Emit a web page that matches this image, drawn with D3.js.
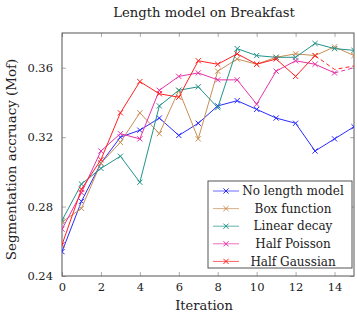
<!DOCTYPE html>
<html>
<head>
<meta charset="utf-8">
<script src="https://cdn.jsdelivr.net/npm/d3@7"></script>
<style>
  body { margin: 0; background: #fff; }
  text { font-family: "DejaVu Serif", serif; fill: #222; }
</style>
</head>
<body>
<svg id="chart" width="357" height="317"></svg>
<script>
const iterations = [0, 1, 2, 3, 4, 5, 6, 7, 8, 9, 10, 11, 12, 13, 14, 15];
const noLength     = [0.254, 0.283, 0.305, 0.320, 0.324, 0.331, 0.321, 0.328, 0.338, 0.341, 0.336, 0.331, 0.328, 0.312, 0.319, 0.326];
const boxFunction  = [0.271, 0.279, 0.305, 0.317, 0.334, 0.322, 0.347, 0.319, 0.358, 0.365, 0.362, 0.366, 0.368, 0.367, 0.372, 0.367];
const linearDecay  = [0.272, 0.293, 0.302, 0.309, 0.294, 0.338, 0.347, 0.349, 0.337, 0.371, 0.367, 0.366, 0.366, 0.374, 0.371, 0.370];
const halfPoisson  = [0.267, 0.288, 0.312, 0.322, 0.319, 0.347, 0.355, 0.357, 0.353, 0.353, 0.339, 0.358, 0.364, 0.362, 0.357, 0.360];
const halfGaussian = [0.258, 0.290, 0.307, 0.334, 0.352, 0.345, 0.343, 0.364, 0.362, 0.368, 0.362, 0.365, 0.355, 0.367, 0.359, 0.361];
const seriesNames = ["No length model", "Box function", "Linear decay", "Half Poisson", "Half Gaussian"];
const xTicks = [0, 2, 4, 6, 8, 10, 12, 14];
const yTicks = [0.24, 0.28, 0.32, 0.36];

// last index drawn solid with markers, the rest is a dashed tail
const series = [
  { name: seriesNames[0], values: noLength,     color: "#2b2bff", solidTo: 15 },
  { name: seriesNames[1], values: boxFunction,  color: "#c98f55", solidTo: 15 },
  { name: seriesNames[2], values: linearDecay,  color: "#22938a", solidTo: 15 },
  { name: seriesNames[3], values: halfPoisson,  color: "#e633a8", solidTo: 14 },
  { name: seriesNames[4], values: halfGaussian, color: "#ff2020", solidTo: 13 }
];

const svg = d3.select("#chart");
const mLeft = 62, mRight = 354, mTop = 33, mBottom = 276;

const x = d3.scaleLinear().domain([0, 15]).range([mLeft, mRight]);
const y = d3.scaleLinear().domain([0.24, 0.38]).range([mBottom, mTop]);

svg.append("defs").append("clipPath").attr("id", "clip")
  .append("rect").attr("x", mLeft).attr("y", mTop)
  .attr("width", mRight - mLeft).attr("height", mBottom - mTop);

// title
svg.append("text")
  .attr("x", (mLeft + mRight) / 2 - 4).attr("y", 17)
  .attr("text-anchor", "middle")
  .style("font-size", "13.2px")
  .text("Length model on Breakfast");

// axes (ticks inward on all four sides)
const tickLen = 4;
const axisColor = "#555";
svg.append("g").attr("transform", `translate(0,${mBottom})`)
  .call(d3.axisBottom(x).tickValues(xTicks).tickSize(-tickLen).tickPadding(7).tickFormat(d3.format("d")));
svg.append("g").attr("transform", `translate(0,${mTop})`)
  .call(d3.axisTop(x).tickValues(xTicks).tickSize(-tickLen).tickFormat(""));
svg.append("g").attr("transform", `translate(${mLeft},0)`)
  .call(d3.axisLeft(y).tickValues(yTicks).tickSize(-tickLen).tickPadding(9).tickFormat(d3.format(".2f")));
svg.append("g").attr("transform", `translate(${mRight},0)`)
  .call(d3.axisRight(y).tickValues(yTicks).tickSize(-tickLen).tickFormat(""));

svg.selectAll(".domain").remove();
svg.selectAll(".tick line").attr("stroke", "#999").attr("stroke-width", 0.8);
svg.selectAll(".tick text").style("font-size", "11.5px").style("font-family", "DejaVu Serif").attr("fill", "#222");

// frame
svg.append("rect")
  .attr("x", mLeft).attr("y", mTop)
  .attr("width", mRight - mLeft).attr("height", mBottom - mTop)
  .attr("fill", "none").attr("stroke", axisColor).attr("stroke-width", 1);

// axis labels
svg.append("text")
  .attr("x", (mLeft + mRight) / 2 - 4).attr("y", 310)
  .attr("text-anchor", "middle")
  .style("font-size", "13px")
  .text("Iteration");

svg.append("text")
  .attr("transform", `translate(16,${(mTop + mBottom) / 2 + 5}) rotate(-90)`)
  .attr("text-anchor", "middle")
  .style("font-size", "13.4px")
  .text("Segmentation accruacy (Mof)");

// lines
const line = d3.line().x(d => x(d.i)).y(d => y(d.v));
const plot = svg.append("g").attr("clip-path", "url(#clip)");

function cross(g, cx, cy, color) {
  const s = 2.6;
  g.append("path")
    .attr("d", `M${cx - s},${cy - s}L${cx + s},${cy + s}M${cx - s},${cy + s}L${cx + s},${cy - s}`)
    .attr("stroke", color).attr("stroke-width", 1).attr("fill", "none");
}

series.forEach(s => {
  const pts = s.values.map((v, idx) => ({ i: iterations[idx], v: v }));
  const solid = pts.slice(0, s.solidTo + 1);
  const tail = pts.slice(s.solidTo);

  plot.append("path").datum(solid)
    .attr("d", line)
    .attr("fill", "none").attr("stroke", s.color).attr("stroke-width", 1);

  if (tail.length > 1) {
    plot.append("path").datum(tail)
      .attr("d", line)
      .attr("fill", "none").attr("stroke", s.color).attr("stroke-width", 1)
      .attr("stroke-dasharray", "4,3");
  }

  solid.forEach(p => cross(plot, x(p.i), y(p.v), s.color));
});

// legend
const legend = svg.append("g");
legend.append("rect")
  .attr("x", 208).attr("y", 181).attr("width", 144).attr("height", 87)
  .attr("fill", "#fff").attr("stroke", axisColor).attr("stroke-width", 1);

series.forEach((s, k) => {
  const ly = 191 + k * 17.6;
  legend.append("line")
    .attr("x1", 213).attr("x2", 239).attr("y1", ly).attr("y2", ly)
    .attr("stroke", s.color).attr("stroke-width", 1).attr("opacity", 0.7);
  cross(legend, 226, ly, s.color);
  legend.append("text")
    .attr("x", 293).attr("y", ly + 4.2)
    .attr("text-anchor", "middle")
    .style("font-size", "12px")
    .text(s.name);
});
</script>
</body>
</html>
